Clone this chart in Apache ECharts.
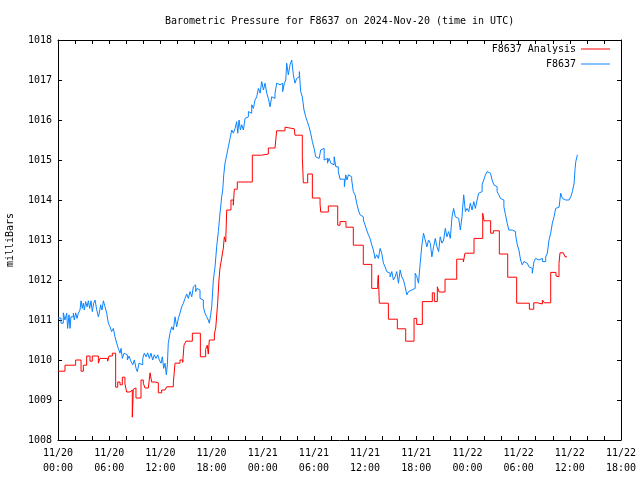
<!DOCTYPE html>
<html><head><meta charset="utf-8">
<script src="https://cdn.jsdelivr.net/npm/echarts@6/dist/echarts.min.js"></script>
<style>html,body{margin:0;padding:0;background:#fff}#c{width:640px;height:480px}</style>
</head><body><div id="c"></div>
<script>
const FONT = 'DejaVu Sans Mono';
const titleText = 'Barometric Pressure for F8637 on 2024-Nov-20 (time in UTC)';
const xTickDays = ['11/20','11/20','11/20','11/20','11/21','11/21','11/21','11/21','11/22','11/22','11/22','11/22'];
const xTickTimes = ['00:00','06:00','12:00','18:00','00:00','06:00','12:00','18:00','00:00','06:00','12:00','18:00'];
const seriesNames = ['F8637 Analysis', 'F8637'];

// hours since 2024-11-20 00:00 UTC
const redHours = [0,0.82,2.07,2.70,2.97,3.36,3.75,4.02,4.73,4.92,5.82,5.98,6.37,6.76,7.0,7.27,7.54,7.85,8.05,8.44,8.71,8.83,9.03,9.14,9.73,10.0,10.2,10.59,10.79,10.98,11.37,11.76,12.15,12.54,12.74,13.52,13.72,14.3,14.62,14.77,15.0,15.75,16.69,17.31,17.5,17.62,17.74,18.33,18.49,18.72,18.87,18.99,19.19,19.38,19.5,19.66,19.78,20.28,20.55,20.67,21.02,22.78,23.88,24.66,25.44,25.63,26.61,26.81,27.7,27.78,28.64,28.76,29.27,29.82,30.72,30.8,31.69,32.79,33.06,33.76,34.62,35.79,36.78,37.48,37.55,37.67,38.73,39.78,40.76,41.74,42.05,42.71,43.88,44.12,44.47,44.67,45.37,46.74,47.52,47.71,48.77,49.79,49.94,50.72,51.04,51.74,52.72,53.77,55.26,55.77,56.19,56.78,57.01,57.76,58.38,58.58,58.73,58.85,59.24,59.44,59.67];
const redValues = [1009.72,1009.87,1010.0,1009.72,1009.87,1010.1,1009.97,1010.1,1009.92,1010.04,1009.97,1010.1,1010.17,1009.32,1009.45,1009.38,1009.57,1009.4,1009.2,1009.25,1008.57,1009.27,1009.3,1009.05,1009.5,1009.42,1009.3,1009.25,1009.68,1009.45,1009.43,1009.18,1009.25,1009.23,1009.33,1009.43,1009.92,1010.0,1009.94,1010.37,1010.47,1010.67,1010.08,1010.27,1010.37,1010.15,1010.5,1010.65,1010.8,1011.43,1012.0,1012.3,1012.55,1012.8,1013.08,1012.95,1013.75,1014.0,1013.87,1014.27,1014.45,1015.12,1015.15,1015.3,1015.35,1015.73,1015.82,1015.78,1015.82,1015.62,1015.08,1014.43,1014.65,1014.05,1013.9,1013.7,1013.85,1013.37,1013.46,1013.32,1012.87,1012.39,1011.79,1011.96,1012.12,1011.42,1011.02,1010.78,1010.47,1011.04,1010.89,1011.46,1011.68,1011.46,1011.83,1011.7,1012.02,1012.52,1012.45,1012.67,1013.04,1013.67,1013.48,1013.17,1013.23,1012.65,1012.07,1011.42,1011.27,1011.43,1011.4,1011.5,1011.43,1012.19,1012.1,1012.08,1012.42,1012.68,1012.64,1012.58,1012.58];

const blueHours = [0,0.35,0.62,0.82,1.02,1.13,1.29,1.41,1.52,1.8,1.91,2.07,2.23,2.38,2.58,2.7,2.85,2.97,3.09,3.24,3.4,3.56,3.71,3.87,4.02,4.18,4.34,4.53,4.73,4.84,5.0,5.16,5.32,5.51,5.71,5.9,6.1,6.29,6.49,6.68,6.88,7.07,7.27,7.39,7.54,7.74,7.94,8.13,8.33,8.56,8.76,8.95,9.15,9.3,9.5,9.73,9.93,10.12,10.32,10.51,10.71,10.9,11.1,11.29,11.49,11.69,11.88,12.08,12.23,12.39,12.54,12.7,12.82,12.93,13.13,13.33,13.52,13.72,13.91,14.11,14.3,14.5,14.7,14.89,15.09,15.28,15.48,15.68,15.87,15.99,16.14,16.3,16.45,16.65,16.84,17.04,17.23,17.43,17.62,17.74,17.9,18.02,18.21,18.41,18.6,18.8,18.99,19.19,19.31,19.43,19.58,19.78,19.97,20.17,20.37,20.56,20.76,20.95,21.07,21.23,21.38,21.54,21.73,21.93,22.12,22.32,22.51,22.71,22.9,23.1,23.3,23.49,23.69,23.88,24.08,24.27,24.47,24.66,24.86,25.05,25.25,25.44,25.64,25.84,26.03,26.23,26.34,26.54,26.7,26.81,27.0,27.2,27.4,27.59,27.78,27.98,28.18,28.29,28.45,28.64,28.84,29.04,29.23,29.43,29.62,29.82,30.02,30.21,30.41,30.61,30.8,31.0,31.2,31.39,31.59,31.78,31.98,32.18,32.37,32.57,32.67,32.86,33.06,33.33,33.57,33.73,33.88,34.04,34.23,34.43,34.62,34.82,35.02,35.21,35.41,35.6,35.8,35.99,36.19,36.39,36.58,36.78,36.97,37.17,37.36,37.56,37.76,37.95,38.15,38.34,38.54,38.73,38.93,39.13,39.32,39.52,39.71,39.91,40.11,40.3,40.5,40.7,40.89,41.09,41.28,41.48,41.68,41.87,42.07,42.26,42.46,42.66,42.85,43.05,43.25,43.44,43.64,43.83,44.03,44.23,44.42,44.62,44.81,45.01,45.21,45.4,45.6,45.79,45.99,46.19,46.38,46.58,46.78,46.97,47.17,47.36,47.56,47.76,47.95,48.15,48.34,48.54,48.74,48.93,49.13,49.32,49.52,49.72,49.91,50.11,50.3,50.5,50.7,50.89,51.09,51.28,51.48,51.68,51.87,52.07,52.27,52.46,52.66,52.85,53.05,53.25,53.44,53.64,53.84,54.03,54.23,54.42,54.62,54.82,55.01,55.21,55.4,55.6,55.8,55.99,56.19,56.38,56.58,56.78,56.97,57.17,57.36,57.56,57.76,57.95,58.15,58.34,58.54,58.74,58.93,59.13,59.32,59.52,59.71,59.91,60.11,60.3,60.5,60.62,60.7,60.89];
const blueValues = [1011.05,1010.92,1011.18,1011.0,1011.17,1010.79,1011.13,1010.79,1011.08,1011.17,1011.0,1011.18,1011.04,1011.17,1011.25,1011.48,1011.29,1011.42,1011.25,1011.46,1011.33,1011.48,1011.29,1011.48,1011.21,1011.42,1011.5,1011.27,1011.08,1011.17,1011.38,1011.25,1011.48,1011.33,1011.17,1010.92,1010.83,1010.71,1010.79,1010.58,1010.42,1010.29,1010.17,1010.29,1010.04,1010.17,1010.13,1010.0,1010.1,1009.96,1009.88,1010.0,1009.79,1009.71,1009.92,1009.88,1010.04,1010.17,1010.08,1010.18,1010.04,1010.17,1010.0,1010.13,1010.04,1010.13,1010.0,1009.92,1010.08,1009.79,1009.92,1009.63,1009.88,1010.42,1010.67,1010.83,1010.75,1011.08,1010.83,1011.04,1011.17,1011.33,1011.42,1011.54,1011.65,1011.54,1011.71,1011.58,1011.83,1011.88,1011.71,1011.79,1011.75,1011.54,1011.5,1011.33,1011.17,1011.08,1011.0,1010.92,1011.13,1011.33,1012.0,1012.33,1012.83,1013.21,1013.67,1014.08,1014.25,1014.63,1014.92,1015.13,1015.33,1015.54,1015.75,1015.67,1015.79,1015.96,1015.67,1016.0,1015.75,1015.88,1015.75,1016.04,1016.08,1016.21,1016.17,1016.38,1016.29,1016.5,1016.58,1016.79,1016.67,1016.96,1016.75,1016.92,1016.67,1016.54,1016.33,1016.58,1016.54,1016.67,1016.92,1016.88,1016.92,1016.92,1016.71,1016.92,1017.0,1017.42,1017.13,1017.38,1017.5,1017.13,1016.92,1017.04,1017.08,1017.21,1016.71,1016.58,1016.25,1016.08,1015.96,1015.83,1015.67,1015.46,1015.29,1015.08,1015.04,1015.08,1015.25,1015.29,1015.0,1015.04,1014.92,1015.04,1014.92,1014.88,1015.08,1014.83,1014.83,1014.71,1014.52,1014.52,1014.33,1014.63,1014.5,1014.63,1014.58,1014.5,1014.21,1014.13,1013.92,1013.75,1013.63,1013.58,1013.5,1013.38,1013.25,1013.13,1013.04,1012.88,1012.75,1012.54,1012.63,1012.54,1012.79,1012.67,1012.42,1012.33,1012.21,1012.17,1012.08,1012.21,1012.0,1012.08,1012.21,1011.92,1012.25,1012.08,1012.0,1011.83,1011.63,1011.71,1011.75,1011.71,1011.79,1012.17,1012.08,1011.92,1012.42,1012.88,1013.17,1013.0,1012.83,1013.0,1012.92,1012.58,1012.83,1013.04,1012.83,1012.71,1013.08,1012.92,1013.0,1013.29,1013.08,1013.21,1013.04,1013.58,1013.79,1013.58,1013.54,1013.58,1013.25,1013.58,1014.13,1013.71,1013.79,1013.71,1013.92,1013.75,1013.96,1013.79,1014.0,1014.17,1014.21,1014.38,1014.5,1014.63,1014.71,1014.67,1014.68,1014.5,1014.38,1014.33,1014.21,1014.13,1014.04,1014.0,1013.83,1013.63,1013.42,1013.25,1013.25,1013.29,1013.21,1013.13,1012.88,1012.75,1012.5,1012.38,1012.46,1012.42,1012.38,1012.33,1012.29,1012.17,1012.46,1012.54,1012.5,1012.46,1012.54,1012.46,1012.46,1012.58,1012.67,1013.0,1013.17,1013.42,1013.58,1013.79,1013.82,1013.82,1014.17,1014.04,1014.0,1014.04,1014.0,1013.96,1014.08,1014.21,1014.42,1014.79,1014.96,1015.13];

const redData = redHours.map((h, i) => [h, redValues[i]]);
const blueData = blueHours.map((h, i) => [h, blueValues[i]]);

const chart = echarts.init(document.getElementById('c'), null, {renderer: 'canvas'});
const axisCommon = {
  type: 'value',
  axisLine: {show: true, onZero: false, lineStyle: {color: '#000', width: 1}},
  axisTick: {show: true, inside: true, length: 4, lineStyle: {color: '#000', width: 1}},
  splitLine: {show: false}
};
const labelStyle = {fontFamily: FONT, fontSize: 10, color: '#000'};
chart.setOption({
  animation: false,
  backgroundColor: '#fff',
  title: {
    text: titleText, left: 165, top: 16, padding: 0,
    textStyle: {fontFamily: FONT, fontSize: 10, fontWeight: 'normal', color: '#000'}
  },
  legend: {
    data: seriesNames, orient: 'vertical', align: 'right', right: 30, top: 44,
    itemWidth: 29, itemHeight: 1, itemGap: 5, icon: 'rect', padding: 0,
    textStyle: {fontFamily: FONT, fontSize: 10, color: '#000'}
  },
  grid: {left: 58, right: 19, top: 40, bottom: 40, containLabel: false, outerBoundsMode: 'none'},
  xAxis: [
    Object.assign({}, axisCommon, {
      min: 0, max: 66, interval: 2, position: 'bottom',
      axisLabel: Object.assign({}, labelStyle, {
        margin: 6, lineHeight: 15,
        formatter: v => (v % 6 === 0) ? xTickDays[v / 6] + '\n' + xTickTimes[v / 6] : ''
      })
    }),
    Object.assign({}, axisCommon, {
      min: 0, max: 66, interval: 2, position: 'top', axisLabel: {show: false}
    })
  ],
  yAxis: [
    Object.assign({}, axisCommon, {
      min: 1008, max: 1018, interval: 1, position: 'left',
      axisLabel: Object.assign({}, labelStyle, {margin: 6, formatter: v => String(v)}),
      name: 'milliBars', nameLocation: 'middle', nameRotate: 90, nameGap: 43,
      nameTextStyle: {fontFamily: FONT, fontSize: 10, color: '#000'}
    }),
    Object.assign({}, axisCommon, {
      min: 1008, max: 1018, interval: 1, position: 'right', axisLabel: {show: false}
    })
  ],
  series: [
    {name: seriesNames[0], type: 'line', step: 'end', data: redData, showSymbol: false, symbol: 'none',
     lineStyle: {color: '#ff0000', width: 1}, itemStyle: {color: '#ff0000'}, silent: true},
    {name: seriesNames[1], type: 'line', step: 'end', data: blueData, showSymbol: false, symbol: 'none',
     lineStyle: {color: '#0a84ff', width: 1}, itemStyle: {color: '#0a84ff'}, silent: true}
  ]
});
</script>
</body></html>
